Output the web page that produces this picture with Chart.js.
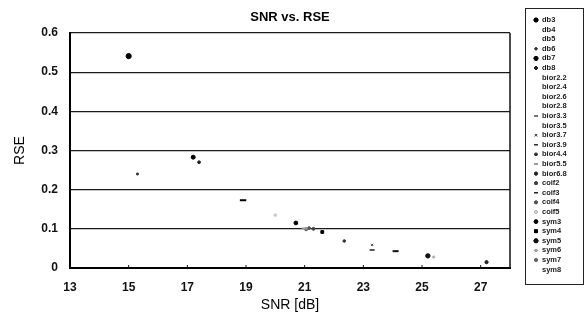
<!DOCTYPE html>
<html>
<head>
<meta charset="utf-8">
<script src="https://cdn.jsdelivr.net/npm/chart.js@4.4.1/dist/chart.umd.min.js"></script>
<style>
    html, body { margin: 0; padding: 0; background: #fff; }
    #wrap { width: 586px; height: 317px; }
</style>
</head>
<body>
<div id="wrap"><canvas id="snrChart" width="586" height="317"></canvas></div>
<script>
//================================================
// DATA
// ===============================================
const wavelets = ['db3', 'db4', 'db5', 'db6', 'db7', 'db8',
    'bior2.2', 'bior2.4', 'bior2.6', 'bior2.8', 'bior3.3', 'bior3.5', 'bior3.7', 'bior3.9',
    'bior4.4', 'bior5.5', 'bior6.8', 'coif2', 'coif3', 'coif4', 'coif5',
    'sym3', 'sym4', 'sym5', 'sym6', 'sym7', 'sym8'];

// null = series has no point on the plot
const snrValues = [15.0, null, null, 15.3, 17.2, 17.4,
    null, null, null, null, 23.3, null, 23.3, 24.1,
    22.35, 21.0, 27.2, 21.3, 18.9, 21.15, 20.0,
    20.7, 21.6, 25.2, 25.4, 21.05, null];

const rseValues = [0.541, null, null, 0.240, 0.283, 0.270,
    null, null, null, null, 0.046, null, 0.059, 0.043,
    0.069, 0.101, 0.015, 0.100, 0.173, 0.102, 0.135,
    0.115, 0.092, 0.031, 0.028, 0.099, null];

const xTicks = [13, 15, 17, 19, 21, 23, 25, 27];
const yTicks = [0, 0.1, 0.2, 0.3, 0.4, 0.5, 0.6];

// marker look per series (legend + plot)
const markerStyle = {
    'db3':     { style: 'circle', r: 2.6, color: '#000' },
    'db6':     { style: 'circle', r: 1.1, color: '#333' },
    'db7':     { style: 'circle', r: 2.0, color: '#000' },
    'db8':     { style: 'circle', r: 1.4, color: '#222' },
    'bior3.3': { style: 'line',   r: 2.5, color: '#555' },
    'bior3.7': { style: 'crossRot', r: 1.6, color: '#444' },
    'bior3.9': { style: 'line',   r: 3.0, color: '#111' },
    'bior4.4': { style: 'circle', r: 1.3, color: '#333' },
    'bior5.5': { style: 'line',   r: 3.0, color: '#999' },
    'bior6.8': { style: 'circle', r: 1.6, color: '#222' },
    'coif2':   { style: 'circle', r: 1.5, color: '#444' },
    'coif3':   { style: 'line',   r: 3.2, color: '#000' },
    'coif4':   { style: 'circle', r: 1.4, color: '#555' },
    'coif5':   { style: 'circle', r: 1.4, color: '#ccc' },
    'sym3':    { style: 'circle', r: 1.9, color: '#000' },
    'sym4':    { style: 'rect',   r: 2.0, color: '#000' },
    'sym5':    { style: 'circle', r: 2.2, color: '#111' },
    'sym6':    { style: 'circle', r: 1.1, color: '#aaa' },
    'sym7':    { style: 'circle', r: 1.6, color: '#666' }
};

const FONT = '"Liberation Sans", Arial, sans-serif';

// ===============================================
// PLUGINS
// ===============================================
// plot frame: right border + small inward ticks on the x axis
const framePlugin = {
    id: 'frame',
    afterDraw(chart) {
        const { ctx, chartArea: a, scales } = chart;
        ctx.save();
        ctx.strokeStyle = '#111';
        ctx.lineWidth = 1.5;
        ctx.beginPath();
        ctx.moveTo(a.right, a.top);
        ctx.lineTo(a.right, a.bottom);
        ctx.stroke();
        ctx.lineWidth = 1;
        xTicks.forEach(v => {
            const x = scales.x.getPixelForValue(v);
            ctx.beginPath();
            ctx.moveTo(x, a.bottom);
            ctx.lineTo(x, a.bottom - 3);
            ctx.stroke();
        });
        ctx.restore();
    }
};

// boxed legend at the right, one row per wavelet
const boxLegendPlugin = {
    id: 'boxLegend',
    afterDraw(chart) {
        const { ctx } = chart;
        const box = { left: 525, top: 8, right: 583, bottom: 284 };
        const rowStep = 9.6;
        ctx.save();
        ctx.strokeStyle = '#222';
        ctx.lineWidth = 1;
        ctx.strokeRect(box.left + 0.5, box.top + 0.5, box.right - box.left, box.bottom - box.top);

        ctx.font = 'bold 7.5px ' + FONT;
        ctx.textBaseline = 'middle';
        ctx.textAlign = 'left';
        chart.data.datasets.forEach((ds, i) => {
            const y = box.top + 12 + i * rowStep;
            const m = markerStyle[ds.label];
            if (m) {
                Chart.helpers.drawPoint(ctx, {
                    pointStyle: m.style,
                    radius: Math.min(m.r, 2),
                    rotation: 0,
                    borderWidth: m.style === 'line' ? 1.5 : 1
                }, 536, y);
                ctx.fillStyle = m.color;
                ctx.strokeStyle = m.color;
                Chart.helpers.drawPoint(ctx, {
                    pointStyle: m.style,
                    radius: Math.min(m.r, 2),
                    rotation: 0,
                    borderWidth: m.style === 'line' ? 1.5 : 1
                }, 536, y);
            }
            ctx.fillStyle = '#1a1a1a';
            ctx.fillText(ds.label, 542, y);
        });
        ctx.restore();
    }
};

// ===============================================
// CHART
// ===============================================
const datasets = wavelets.map((name, i) => {
    const m = markerStyle[name];
    const has = snrValues[i] !== null && rseValues[i] !== null;
    return {
        label: name,
        data: has ? [{ x: snrValues[i], y: rseValues[i] }] : [],
        pointStyle: m ? m.style : false,
        pointRadius: m ? m.r : 0,
        pointBackgroundColor: m ? m.color : '#000',
        pointBorderColor: m ? m.color : '#000',
        pointBorderWidth: m && m.style === 'line' ? 2 : 1,
        showLine: false
    };
});

const ctx = document.getElementById('snrChart');
const snrChart = new Chart(ctx, {
    type: 'scatter',
    data: { datasets },
    options: {
        responsive: false,
        animation: false,
        devicePixelRatio: 1,
        layout: { padding: { left: 0, right: 76, top: 0, bottom: 0 } },
        plugins: {
            legend: { display: false },
            tooltip: { enabled: false },
            title: {
                display: true,
                text: 'SNR vs. RSE',
                fullSize: false,
                color: '#000',
                font: { family: FONT, size: 13, weight: 'bold' },
                padding: { top: 9.2, bottom: 8.2 }
            }
        },
        scales: {
            x: {
                type: 'linear',
                min: 13,
                max: 28,
                afterBuildTicks: scale => { scale.ticks = xTicks.map(v => ({ value: v })); },
                afterFit: scale => { scale.height = 49; },
                grid: { display: false, drawTicks: false },
                border: { display: true, color: '#000', width: 2 },
                ticks: {
                    color: '#111',
                    padding: 12,
                    maxRotation: 0,
                    font: { family: FONT, size: 12, weight: 'bold' },
                    callback: v => String(v)
                },
                title: {
                    display: true,
                    text: 'SNR [dB]',
                    color: '#000',
                    font: { family: FONT, size: 14 },
                    padding: { top: 0, bottom: 3.6 }
                }
            },
            y: {
                min: 0,
                max: 0.6,
                afterBuildTicks: scale => { scale.ticks = yTicks.map(v => ({ value: v })); },
                afterFit: scale => { scale.width = 70; },
                grid: { color: '#1a1a1a', lineWidth: 1.2, drawTicks: false },
                border: { display: true, color: '#000', width: 2 },
                ticks: {
                    color: '#111',
                    padding: 12,
                    font: { family: FONT, size: 12, weight: 'bold' },
                    callback: v => v === 0 ? '0' : v.toFixed(1)
                },
                title: {
                    display: true,
                    text: 'RSE',
                    color: '#000',
                    font: { family: FONT, size: 14 },
                    padding: { top: 12, bottom: 0 }
                }
            }
        }
    },
    plugins: [framePlugin, boxLegendPlugin]
});
</script>
</body>
</html>
